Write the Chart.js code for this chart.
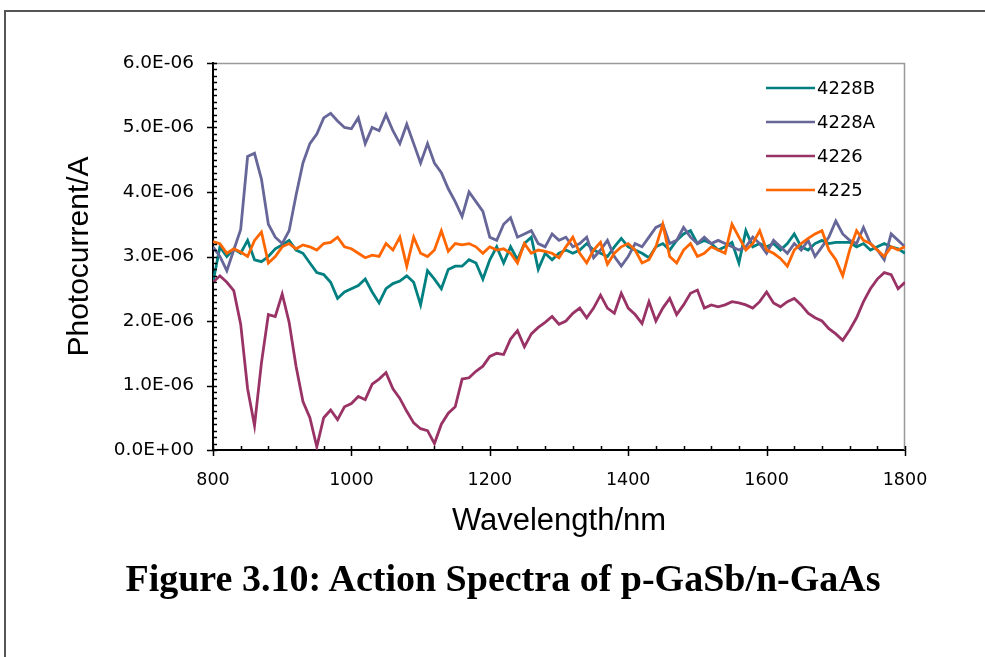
<!DOCTYPE html>
<html>
<head>
<meta charset="utf-8">
<script src="https://cdn.jsdelivr.net/npm/chart.js@4.4.1/dist/chart.umd.min.js"></script>
<style>
  html, body { margin: 0; padding: 0; background: #fff; }
  #wrap { position: relative; width: 985px; height: 657px; overflow: hidden; }
  #frame { position: absolute; left: 4px; top: 10px; width: 1000px; height: 700px;
           border-top: 2px solid #555; border-left: 2px solid #555; }
  #c { position: absolute; left: 0; top: 0; }
  #caption { position: absolute; left: 0; top: 556px; width: 1006px; text-align: center;
             font: bold 38px/44px "Liberation Serif", "Times New Roman", serif; color: #000;
             white-space: nowrap; }
</style>
</head>
<body>
<div id="wrap">
  <div id="frame"></div>
  <canvas id="c" width="985" height="657"></canvas>
  <div id="caption">Figure 3.10: Action Spectra of p-GaSb/n-GaAs</div>
</div>
<script>
// Wavelength grid (nm)
const wavelengths = [
  800, 810, 820, 830, 840, 850, 860, 870, 880, 890,
  900, 910, 920, 930, 940, 950, 960, 970, 980, 990,
  1000, 1010, 1020, 1030, 1040, 1050, 1060, 1070, 1080, 1090,
  1100, 1110, 1120, 1130, 1140, 1150, 1160, 1170, 1180, 1190,
  1200, 1210, 1220, 1230, 1240, 1250, 1260, 1270, 1280, 1290,
  1300, 1310, 1320, 1330, 1340, 1350, 1360, 1370, 1380, 1390,
  1400, 1410, 1420, 1430, 1440, 1450, 1460, 1470, 1480, 1490,
  1500, 1510, 1520, 1530, 1540, 1550, 1560, 1570, 1580, 1590,
  1600, 1610, 1620, 1630, 1640, 1650, 1660, 1670, 1680, 1690,
  1700, 1710, 1720, 1730, 1740, 1750, 1760, 1770, 1780, 1790,
  1800
];

// Photocurrent of each sample, in units of 1E-06 A
const current4228B = [
  2.6, 3.15, 3.0, 3.12, 3.05, 3.25, 2.95, 2.92, 3.0, 3.12,
  3.18, 3.25, 3.1, 3.05, 2.9, 2.75, 2.72, 2.6, 2.35, 2.45,
  2.5, 2.55, 2.65, 2.45, 2.28, 2.5, 2.58, 2.62, 2.7, 2.6,
  2.25, 2.78, 2.65, 2.5, 2.8, 2.85, 2.85, 2.95, 2.9, 2.65,
  2.95, 3.15, 2.9, 3.15, 2.95, 3.2, 3.3, 2.8, 3.05, 2.95,
  3.05, 3.1, 3.05, 3.1, 3.2, 3.1, 3.05, 3.0, 3.15, 3.28,
  3.15, 3.1, 3.05, 2.98, 3.15, 3.2, 3.1, 3.25, 3.35, 3.4,
  3.2, 3.25, 3.2, 3.1, 3.15, 3.22, 2.9, 3.4, 3.15, 3.2,
  3.15, 3.2, 3.1, 3.2, 3.35, 3.15, 3.1, 3.2, 3.25, 3.2,
  3.22, 3.22, 3.22, 3.15, 3.2, 3.1, 3.15, 3.2, 3.15, 3.12,
  3.05
];

const current4228A = [
  3.15, 3.0, 2.78, 3.1, 3.42, 4.55, 4.6, 4.2, 3.5, 3.3,
  3.2, 3.4, 3.95, 4.45, 4.75, 4.9, 5.15, 5.22, 5.1, 5.0,
  4.98, 5.15, 4.75, 5.0, 4.95, 5.2, 4.95, 4.75, 5.05, 4.75,
  4.45, 4.75, 4.45, 4.3, 4.05, 3.85, 3.62, 4.0, 3.85, 3.7,
  3.3, 3.25, 3.5, 3.6, 3.3, 3.35, 3.4, 3.2, 3.15, 3.35,
  3.25, 3.3, 3.15, 3.2, 3.3, 2.98, 3.1, 3.25, 3.0, 2.85,
  3.0, 3.2, 3.15, 3.3, 3.45, 3.5, 3.2, 3.25, 3.45, 3.3,
  3.2, 3.3, 3.2, 3.25, 3.2, 3.15, 3.1, 3.15, 3.3, 3.2,
  3.05, 3.25, 3.15, 3.05, 3.2, 3.1, 3.25, 3.0, 3.15, 3.3,
  3.55, 3.35, 3.25, 3.2, 3.45, 3.2, 3.1, 2.95, 3.35, 3.25,
  3.15
];

const current4226 = [
  2.6, 2.7, 2.6, 2.47, 1.95, 0.95, 0.38, 1.35, 2.1, 2.07,
  2.42, 1.98, 1.3, 0.75, 0.5, 0.05, 0.5, 0.62, 0.47, 0.67,
  0.72, 0.83, 0.78, 1.02, 1.1, 1.2, 0.95, 0.8, 0.6, 0.42,
  0.33, 0.3, 0.1, 0.4, 0.57, 0.67, 1.1, 1.12, 1.22, 1.3,
  1.45, 1.5, 1.48, 1.72, 1.85, 1.6, 1.8, 1.9, 1.98, 2.07,
  1.95, 2.0, 2.12, 2.2, 2.05, 2.2, 2.4, 2.2, 2.12, 2.43,
  2.2, 2.1, 1.96, 2.3, 2.0, 2.2, 2.35, 2.1, 2.25, 2.43,
  2.48, 2.2, 2.25, 2.22, 2.25, 2.3, 2.28, 2.25, 2.2, 2.3,
  2.45, 2.28, 2.22, 2.3, 2.35, 2.25, 2.12, 2.05, 2.0, 1.88,
  1.8, 1.7, 1.86, 2.05, 2.3, 2.5, 2.65, 2.75, 2.72, 2.5,
  2.6
];

const current4225 = [
  3.23, 3.2, 3.05, 3.12, 3.07, 3.0, 3.25, 3.38, 2.9, 3.0,
  3.15, 3.2, 3.12, 3.18, 3.15, 3.1, 3.2, 3.22, 3.3, 3.15,
  3.12, 3.05, 2.98, 3.02, 3.0, 3.2, 3.1, 3.3, 2.85, 3.3,
  3.05, 3.0, 3.1, 3.4, 3.08, 3.2, 3.18, 3.2, 3.15, 3.05,
  3.15, 3.1, 3.12, 3.05, 2.9, 3.2, 3.05, 3.1, 3.08, 3.05,
  2.98, 3.15, 3.3, 3.05, 2.9, 3.1, 3.22, 2.88, 3.05, 3.15,
  3.2, 3.1, 2.9, 2.95, 3.15, 3.5, 3.0, 2.9, 3.1, 3.2,
  3.0, 3.05, 3.15, 3.1, 3.05, 3.5, 3.3, 3.1, 3.2, 3.4,
  3.1, 3.05, 2.97, 2.85, 3.1, 3.2, 3.28, 3.35, 3.4, 3.1,
  2.95, 2.7, 3.1, 3.4, 3.25, 3.2, 3.1, 3.0, 3.15, 3.1,
  3.15
];

const seriesNames = ['4228B', '4228A', '4226', '4225'];
const seriesColors = ['#008080', '#666699', '#993366', '#FF6600'];
const seriesValues = [current4228B, current4228A, current4226, current4225];

// Axis ticks
const xMajorStep = 200, xMinorStep = 40;
const yMajorStep = 1, yMinorStep = 0.1;

function sciLabel(v) {
  if (Math.abs(v) < 1e-9) return '0.0E+00';
  return v.toFixed(1) + 'E-06';
}

const xTickFont = { family: 'DejaVu Sans', size: 17.5 };
const yTickFont = { family: 'DejaVu Sans', size: 18.5 };

// Excel-style tick marks: major ticks cross the axis, minor ticks point inward;
// grey frame on the top and right of the plot area; legend inside the plot.
const axisDecor = {
  id: 'axisDecor',
  beforeDatasetsDraw(chart) {
    const { ctx, chartArea: a } = chart;
    ctx.save();
    ctx.strokeStyle = '#999';
    ctx.lineWidth = 1.5;
    ctx.beginPath();
    ctx.moveTo(a.left, a.top + 0.5);
    ctx.lineTo(a.right - 0.5, a.top + 0.5);
    ctx.lineTo(a.right - 0.5, a.bottom);
    ctx.stroke();
    ctx.restore();
  },
  afterDraw(chart) {
    const { ctx, chartArea: a, scales } = chart;
    const xs = scales.x, ys = scales.y;
    ctx.save();
    ctx.strokeStyle = '#000';
    ctx.lineWidth = 1.5;
    ctx.beginPath();
    for (let v = xs.min; v <= xs.max + 1e-6; v += xMinorStep) {
      const px = Math.round(xs.getPixelForValue(v)) + 0.5;
      const major = Math.abs((v - xs.min) % xMajorStep) < 1e-6;
      ctx.moveTo(px, a.bottom - 4);
      ctx.lineTo(px, a.bottom + (major ? 6 : 0));
    }
    for (let i = 0; i <= Math.round((ys.max - ys.min) / yMinorStep); i++) {
      const v = ys.min + i * yMinorStep;
      const py = Math.round(ys.getPixelForValue(v)) + 0.5;
      const major = i % Math.round(yMajorStep / yMinorStep) === 0;
      ctx.moveTo(a.left - (major ? 6 : 0), py);
      ctx.lineTo(a.left + 4, py);
    }
    ctx.stroke();

    ctx.font = '18px "DejaVu Sans"';
    ctx.textBaseline = 'middle';
    ctx.textAlign = 'left';
    chart.data.datasets.forEach((ds, i) => {
      const y = a.top + 25 + i * 34;
      ctx.strokeStyle = ds.borderColor;
      ctx.lineWidth = 2.5;
      ctx.beginPath();
      ctx.moveTo(a.right - 139, y);
      ctx.lineTo(a.right - 90, y);
      ctx.stroke();
      ctx.fillStyle = '#000';
      ctx.fillText(ds.label, a.right - 88, y + 1);
    });
    ctx.restore();
  }
};

const datasets = seriesNames.map((name, i) => ({
  label: name,
  data: wavelengths.map((w, k) => ({ x: w, y: seriesValues[i][k] })),
  borderColor: seriesColors[i],
  backgroundColor: seriesColors[i],
  borderWidth: 2.8,
  pointRadius: 0,
  tension: 0,
  fill: false,
  order: seriesNames.length - i
}));

new Chart(document.getElementById('c'), {
  type: 'line',
  data: { datasets },
  options: {
    responsive: false,
    animation: false,
    layout: { padding: { left: 62, top: 63, right: 80, bottom: 117 } },
    plugins: {
      legend: { display: false },
      tooltip: { enabled: false },
      title: { display: false }
    },
    scales: {
      x: {
        type: 'linear',
        min: 800, max: 1800,
        ticks: { stepSize: xMajorStep, color: '#000', font: xTickFont, padding: 20, maxRotation: 0,
                 callback: v => String(v) },
        grid: { display: false, drawTicks: false, tickLength: 0 },
        border: { display: true, color: '#000', width: 2 },
        title: {
          display: true, text: 'Wavelength/nm', color: '#000',
          font: { family: 'Liberation Sans', size: 31, lineHeight: 1.2 },
          padding: 0
        },
        afterFit(s) { s.height = 90; }
      },
      y: {
        min: 0, max: 6,
        ticks: { stepSize: yMajorStep, color: '#000', font: yTickFont, padding: 19, callback: sciLabel },
        grid: { display: false, drawTicks: false, tickLength: 0 },
        border: { display: true, color: '#000', width: 2 },
        title: {
          display: true, text: 'Photocurrent/A', color: '#000',
          font: { family: 'Liberation Sans', size: 30, lineHeight: 1.2 },
          padding: 0
        },
        afterFit(s) { s.width = 151; }
      }
    }
  },
  plugins: [axisDecor]
});
</script>
</body>
</html>
